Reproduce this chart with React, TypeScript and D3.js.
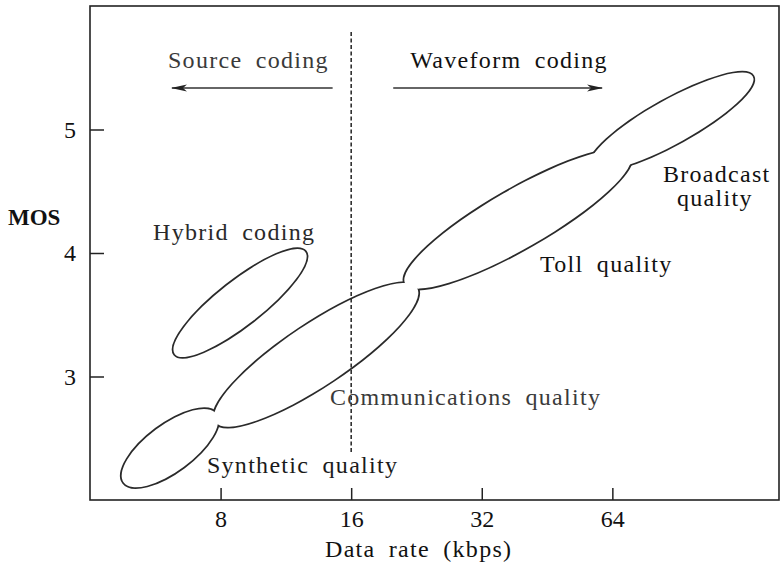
import { useEffect, useRef } from 'react'
import * as d3 from 'd3'

// speech coder quality regions: major-axis tips (rate kbps, MOS) + half thickness in MOS
const regionNames = ['Synthetic', 'Hybrid', 'Communications', 'Toll', 'Broadcast']
const lowRate = [4.78, 6.27, 7.77, 21.3, 57.0]
const lowMos = [2.14, 3.18, 2.63, 3.75, 4.7]
const highRate = [7.82, 12.55, 22.7, 70.6, 135]
const highMos = [2.7, 4.01, 3.72, 4.8, 5.43]
const halfThick = [0.19, 0.18, 0.25, 0.24, 0.18]

const rateTicks = [8, 16, 32, 64]
const mosTicks = [3, 4, 5]

const labelText = [
  'Source coding',
  'Waveform coding',
  'Hybrid coding',
  'Broadcast',
  'quality',
  'Toll quality',
  'Communications quality',
  'Synthetic quality',
]
const labelRate = [6.05, 21.9, 5.59, 83.7, 90.2, 43.6, 14.3, 7.44]
const labelMos = [5.498, 5.498, 4.105, 4.575, 4.381, 3.846, 2.769, 2.219]
const labelTone = ['#3a3a3a', '#111', '#2a2a2a', '#111', '#111', '#111', '#3a3a3a', '#1a1a1a']

// coding direction arrows (from -> to), dashed divider at 16 kbps
const arrowFrom = [14.5, 20]
const arrowTo = [6.18, 60.6]
const arrowMos = 5.336
const dividerRate = 16

const FONT = '"Times New Roman", Times, "Liberation Serif", "Nimbus Roman", serif'

export default function App() {
  const ref = useRef<SVGSVGElement | null>(null)

  useEffect(() => {
    if (!ref.current) return
    const width = 780
    const height = 565
    const left = 90
    const right = 779
    const top = 6
    const bottom = 500

    const svg = d3.select(ref.current)
    svg.selectAll('*').remove()

    const x = d3.scaleLog().base(2).domain([4, 155]).range([left, right])
    const y = d3.scaleLinear().domain([2, 6]).range([bottom, top])
    const pxPerMos = y(2) - y(3)

    svg
      .append('defs')
      .append('marker')
      .attr('id', 'head')
      .attr('markerUnits', 'userSpaceOnUse')
      .attr('viewBox', '0 0 16 8')
      .attr('refX', 15)
      .attr('refY', 4)
      .attr('markerWidth', 16)
      .attr('markerHeight', 8)
      .attr('orient', 'auto')
      .append('path')
      .attr('d', 'M0,0.5 L16,4 L0,7.5 L4,4 Z')
      .attr('fill', '#222')

    const regions = regionNames.map((name, i) => {
      const x1 = x(lowRate[i])
      const y1 = y(lowMos[i])
      const x2 = x(highRate[i])
      const y2 = y(highMos[i])
      return {
        name,
        cx: (x1 + x2) / 2,
        cy: (y1 + y2) / 2,
        rx: Math.hypot(x2 - x1, y2 - y1) / 2,
        ry: halfThick[i] * pxPerMos,
        angle: (Math.atan2(y2 - y1, x2 - x1) * 180) / Math.PI,
      }
    })

    // strokes first, then white fills so only the outer outline of the union remains
    const g = svg.append('g')
    g.selectAll('ellipse.outline')
      .data(regions)
      .join('ellipse')
      .attr('class', 'outline')
      .attr('cx', (d) => d.cx)
      .attr('cy', (d) => d.cy)
      .attr('rx', (d) => d.rx)
      .attr('ry', (d) => d.ry)
      .attr('transform', (d) => `rotate(${d.angle} ${d.cx} ${d.cy})`)
      .attr('fill', 'none')
      .attr('stroke', '#2a2a2a')
      .attr('stroke-width', 3)
    g.selectAll('ellipse.fill')
      .data(regions)
      .join('ellipse')
      .attr('class', 'fill')
      .attr('cx', (d) => d.cx)
      .attr('cy', (d) => d.cy)
      .attr('rx', (d) => d.rx - 0.2)
      .attr('ry', (d) => d.ry - 0.2)
      .attr('transform', (d) => `rotate(${d.angle} ${d.cx} ${d.cy})`)
      .attr('fill', '#fff')

    // frame
    svg
      .append('rect')
      .attr('x', left)
      .attr('y', top)
      .attr('width', right - left)
      .attr('height', bottom - top)
      .attr('fill', 'none')
      .attr('stroke', '#222')
      .attr('stroke-width', 1.6)

    const xAxis = svg
      .append('g')
      .attr('transform', `translate(0,${bottom})`)
      .call(d3.axisBottom(x).tickValues(rateTicks).tickFormat(d3.format('d')).tickSize(-12).tickPadding(10))
    const yAxis = svg
      .append('g')
      .attr('transform', `translate(${left},0)`)
      .call(d3.axisLeft(y).tickValues(mosTicks).tickFormat(d3.format('d')).tickSize(-14).tickPadding(14))
    ;[xAxis, yAxis].forEach((ax) => {
      ax.select('.domain').remove()
      ax.selectAll('line').attr('stroke', '#222').attr('stroke-width', 1.5)
      ax.selectAll('text')
        .attr('fill', '#111')
        .style('font-family', FONT)
        .style('font-size', '24px')
    })

    // divider
    svg
      .append('line')
      .attr('x1', x(dividerRate))
      .attr('x2', x(dividerRate))
      .attr('y1', 32)
      .attr('y2', 453)
      .attr('stroke', '#222')
      .attr('stroke-width', 1.5)
      .attr('stroke-dasharray', '4 2.5')

    svg
      .append('g')
      .selectAll('line')
      .data(arrowFrom)
      .join('line')
      .attr('x1', (d) => x(d))
      .attr('x2', (_, i) => x(arrowTo[i]))
      .attr('y1', y(arrowMos))
      .attr('y2', y(arrowMos))
      .attr('stroke', '#333')
      .attr('stroke-width', 1.6)
      .attr('marker-end', 'url(#head)')

    svg
      .append('g')
      .selectAll('text')
      .data(labelText)
      .join('text')
      .attr('x', (_, i) => x(labelRate[i]))
      .attr('y', (_, i) => y(labelMos[i]))
      .attr('fill', (_, i) => labelTone[i])
      .style('font-family', FONT)
      .style('font-size', '24px')
      .style('letter-spacing', '1.3px')
      .style('word-spacing', '6px')
      .text((d) => d)

    svg
      .append('text')
      .attr('x', 8)
      .attr('y', 225)
      .attr('fill', '#111')
      .style('font-family', FONT)
      .style('font-size', '23px')
      .style('font-weight', 'bold')
      .text('MOS')

    svg
      .append('text')
      .attr('x', 325)
      .attr('y', 557)
      .attr('fill', '#111')
      .style('font-family', FONT)
      .style('font-size', '24px')
      .style('letter-spacing', '1.3px')
      .style('word-spacing', '6px')
      .text('Data rate (kbps)')

    svg.attr('width', width).attr('height', height)
  }, [])

  return (
    <svg
      ref={ref}
      width={780}
      height={565}
      style={{ position: 'absolute', left: 0, top: 0, background: '#fff' }}
    />
  )
}
